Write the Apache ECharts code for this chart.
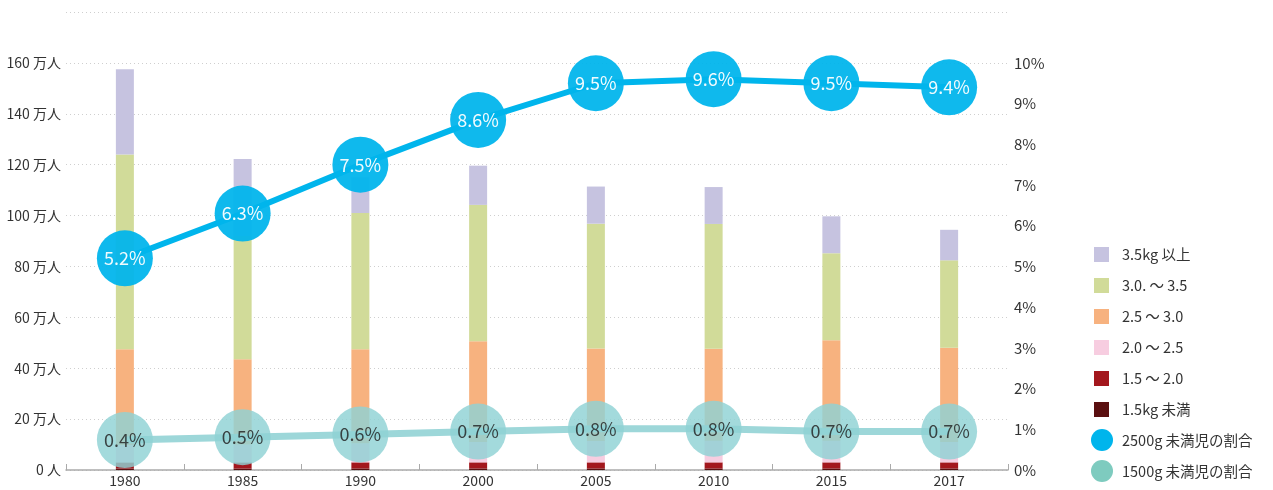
<!DOCTYPE html>
<html>
<head>
<meta charset="utf-8">
<script src="https://cdn.jsdelivr.net/npm/echarts@6/dist/echarts.min.js"></script>
<style>html,body{margin:0;padding:0;background:#fff;}#c{width:1273px;height:490px;}</style>
</head>
<body>
<div id="c"></div>
<script>
const years = ['1980','1985','1990','2000','2005','2010','2015','2017'];
const under15 = [0.6, 0.6, 0.6, 0.6, 0.6, 0.6, 0.6, 0.6];
const w15to20 = [2.4, 2.4, 2.4, 2.4, 2.4, 2.4, 2.4, 2.4];
const w20to25 = [6.8, 7.0, 7.5, 8.0, 8.4, 8.5, 8.5, 8.0];
const w25to30 = [37.7, 33.5, 37.0, 39.6, 36.4, 36.2, 39.5, 37.0];
const w30to35 = [76.5, 48.5, 53.5, 53.6, 49.0, 49.0, 34.2, 34.4];
const over35 = [33.5, 30.2, 14.0, 15.4, 14.6, 14.5, 14.5, 12.0];
const rate2500 = [5.2, 6.3, 7.5, 8.6, 9.5, 9.6, 9.5, 9.4];
const rate1500 = [0.4, 0.5, 0.6, 0.7, 0.8, 0.8, 0.7, 0.7];
const leftTicks = [0, 20, 40, 60, 80, 100, 120, 140, 160];
const rightTicks = [0, 1, 2, 3, 4, 5, 6, 7, 8, 9, 10];

const names = ['3.5kg 以上', '3.0. 〜 3.5', '2.5 〜 3.0', '2.0 〜 2.5', '1.5 〜 2.0', '1.5kg 未満'];
const lineNames = ['2500g 未満児の割合', '1500g 未満児の割合'];
const FONT = '"Noto Sans CJK JP", "Noto Sans", sans-serif';

function bar(name, data, color) {
  return { name, type: 'bar', stack: 'w', data, barWidth: 18, itemStyle: { color }, z: 2 };
}

const chart = echarts.init(document.getElementById('c'));
chart.setOption({
  animation: false,
  textStyle: { fontFamily: FONT },
  grid: { left: 66, right: 265, top: 12, bottom: 20, containLabel: false },
  legend: [
    {
      orient: 'vertical', left: 1089, top: 242, itemWidth: 15, itemHeight: 15, itemGap: 16,
      icon: 'rect',
      textStyle: { fontSize: 14.5, color: '#333', fontFamily: FONT, padding: [0, 0, 0, 8] },
      data: names
    },
    {
      orient: 'vertical', left: 1086, top: 424, itemWidth: 22, itemHeight: 22, itemGap: 9,
      icon: 'circle',
      textStyle: { fontSize: 14.5, color: '#333', fontFamily: FONT, padding: [0, 0, 0, 4] },
      data: [
        { name: lineNames[0], itemStyle: { color: '#00b5ec', opacity: 1 } },
        { name: lineNames[1], itemStyle: { color: '#7ecbbf', opacity: 1 } }
      ]
    }
  ],
  xAxis: {
    type: 'category', data: years, boundaryGap: true,
    axisLine: { lineStyle: { color: '#aaa', width: 1.5 } },
    axisTick: { show: true, inside: true, length: 6, lineStyle: { color: '#aaa' } },
    axisLabel: { color: '#333', fontSize: 14, margin: 4, fontFamily: FONT }
  },
  yAxis: [
    {
      type: 'value', min: 0, max: 180, interval: 20,
      axisLine: { show: false }, axisTick: { show: false },
      axisLabel: {
        color: '#333', fontSize: 14, margin: 5, fontFamily: FONT,
        formatter: v => leftTicks.includes(v) ? (v === 0 ? '0 人' : v + ' 万人') : ''
      },
      splitLine: { show: true, lineStyle: { color: '#cfcfcf', type: [1, 3], width: 1 } }
    },
    {
      type: 'value', min: 0, max: 11.25, interval: 1, position: 'right',
      axisLine: { show: false }, axisTick: { show: false },
      axisLabel: {
        color: '#333', fontSize: 15, margin: 6, fontFamily: FONT,
        formatter: v => rightTicks.includes(v) ? v + '%' : ''
      },
      splitLine: { show: false }
    },
    { type: 'value', min: -0.671, max: 15.69, show: false, splitLine: { show: false } }
  ],
  series: [
    bar(names[5], under15, '#5a0f10'),
    bar(names[4], w15to20, '#a3171d'),
    bar(names[3], w20to25, '#f7cde0'),
    bar(names[2], w25to30, '#f7b27f'),
    bar(names[1], w30to35, '#d1db99'),
    bar(names[0], over35, '#c6c3e0'),
    {
      name: lineNames[1], type: 'line', yAxisIndex: 2, data: rate1500, z: 5,
      symbol: 'circle', symbolSize: 56,
      lineStyle: { color: '#9dd7d9', width: 7 },
      itemStyle: { color: '#8fd2d4', opacity: 0.82 },
      label: { show: true, position: 'inside', color: '#222', fontSize: 18, fontFamily: FONT, formatter: p => p.value + '%' }
    },
    {
      name: lineNames[0], type: 'line', yAxisIndex: 1, data: rate2500, z: 6,
      symbol: 'circle', symbolSize: 56,
      lineStyle: { color: '#00b5ec', width: 6 },
      itemStyle: { color: '#00b5ec', opacity: 0.94 },
      label: { show: true, position: 'inside', color: '#fff', fontSize: 18, fontFamily: FONT, formatter: p => p.value + '%' }
    }
  ]
});
</script>
</body>
</html>
